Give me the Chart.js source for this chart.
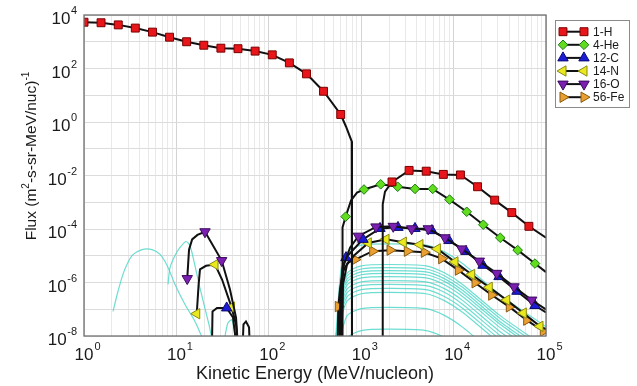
<!DOCTYPE html>
<html lang="en">
<head>
  <meta charset="UTF-8">
  <title>Flux vs Kinetic Energy</title>
  <script src="https://cdn.jsdelivr.net/npm/chart.js@4.4.0/dist/chart.umd.min.js"></script>
  <style>
    html, body { margin: 0; padding: 0; background: #fff; }
    #wrap { width: 637px; height: 386px; position: relative; }
  </style>
</head>
<body>
  <div id="wrap"><canvas id="fluxChart"></canvas></div>

  <script>
    // ---- data (energy in MeV/nucleon, flux in (m^2-s-sr-MeV/nuc)^-1) ----
    const seriesLabels = ['1-H', '4-He', '12-C', '14-N', '16-O', '56-Fe'];
    const xTickExponents = ['0', '1', '2', '3', '4', '5'];
    const yTickExponents = ['4', '2', '0', '-2', '-4', '-6', '-8'];
    const yGridValues = [1e-8, 1e-7, 1e-6, 1e-5, 1e-4, 1e-3, 1e-2, 1e-1, 1, 10, 100, 1000, 10000];

    // 1 = point carries a marker, 0 = line vertex only
    const hEnergy = [1, 1.53, 2.35, 3.59, 5.51, 8.43, 12.9, 19.8, 30.3, 46.4, 71.1, 109, 167, 256, 391, 600,
                     684, 789, 795, 1710, 1710, 1810,
                     2154, 3300, 5054, 7743, 11860, 18170, 27830, 42630, 65300, 100000];
    const hFlux = [5370, 5130, 4270, 3240, 2290, 1480, 1000, 741, 575, 550, 447, 324, 162, 63.1, 14.1, 1.91,
                   0.68, 0.19, 1e-9, 1e-9, 8.3e-4, 2.5e-3,
                   5.75e-3, 1.55e-2, 1.45e-2, 1.10e-2, 1.05e-2, 3.8e-3, 1.2e-3, 4.1e-4, 1.26e-4, 4.7e-5];
    const hMarked = [1, 1, 1, 1, 1, 1, 1, 1, 1, 1, 1, 1, 1, 1, 1, 1,
                     0, 0, 0, 0, 0, 0,
                     1, 1, 1, 1, 1, 1, 1, 1, 1, 0];

    const heEnergy = [620, 628, 679, 776, 901, 1072, 1625, 2483, 3820, 5940, 9030, 13870, 20940, 31990, 49400, 76000, 100000];
    const heFlux = [1e-9, 1.15e-4, 2.9e-4, 1.17e-3, 2.3e-3, 3.0e-3, 4.7e-3, 3.8e-3, 3.16e-3, 3.16e-3, 1.26e-3, 4.4e-4, 1.45e-4, 4.7e-5, 1.62e-5, 5.1e-6, 2.45e-6];
    const heMarked = [0, 0, 1, 0, 0, 1, 1, 1, 1, 1, 1, 1, 1, 1, 1, 1, 0];

    const cEnergy = [24.1, 24.6, 27.5, 35.0, 41.0, 47.0,
                     575, 597, 628, 684, 1045, 1597, 2500, 3820, 5830, 8910, 13610, 20800, 31000, 48500, 76000, 100000];
    const cFlux = [1e-9, 8.3e-8, 1.12e-7, 1.12e-7, 4.9e-8, 1e-9,
                   1e-9, 5.5e-7, 3.6e-6, 8.5e-6, 4.1e-5, 1.05e-4, 1.15e-4, 1.05e-4, 8.7e-5, 3.7e-5, 1.45e-5, 4.4e-6, 1.66e-6, 4.7e-7, 1.38e-7, 7.6e-8];
    const cMarked = [0, 0, 0, 1, 0, 0,
                     0, 0, 0, 1, 1, 1, 1, 1, 1, 1, 1, 1, 1, 1, 1, 0];

    const nEnergy = [16.6, 17.4, 18.0, 20.9, 26.2, 31.2, 39.5, 44.2, 47.6,
                     604, 635, 702, 836, 1194, 1855, 2858, 4325, 6670, 10350, 15700, 24330, 37580, 56800, 86100, 100000];
    const nFlux = [6.8e-8, 8.5e-7, 3.1e-6, 4.2e-6, 4.7e-6, 1.29e-6, 1.2e-7, 2.7e-8, 1e-9,
                   1e-9, 8.5e-7, 4.7e-6, 1.02e-5, 3.0e-5, 4.1e-5, 3.2e-5, 2.6e-5, 1.8e-5, 5.9e-6, 2.0e-6, 6.6e-7, 2.2e-7, 7.2e-8, 2.3e-8, 1.8e-8];
    const nMarked = [1, 0, 0, 0, 1, 0, 1, 0, 0,
                     0, 0, 0, 0, 1, 1, 1, 1, 1, 1, 1, 1, 1, 1, 1, 0];

    const oEnergy = [13.1, 13.7, 14.8, 16.9, 20.4, 30.9, 38.0, 44.2, 47.6,
                     590, 612, 652, 757, 931, 1445, 2223, 3516, 5320, 8070, 12250, 18970, 29300, 45080, 70000, 100000];
    const oFlux = [1.4e-6, 1.7e-5, 4.1e-5, 6.0e-5, 7.9e-5, 6.6e-6, 5.5e-7, 4.9e-8, 1e-9,
                   1e-9, 5.5e-7, 4.7e-6, 2.0e-5, 5.4e-5, 1.2e-4, 1.26e-4, 1.02e-4, 1.02e-4, 4.7e-5, 1.8e-5, 6.3e-6, 2.2e-6, 6.9e-7, 2.2e-7, 9.8e-8];
    const oMarked = [1, 0, 0, 0, 1, 1, 0, 0, 0,
                     0, 0, 0, 0, 1, 1, 1, 1, 1, 1, 1, 1, 1, 1, 1, 0];

    const feEnergy = [51.3, 53.2, 56.6, 61.1, 63.4,
                      553, 565, 590, 635, 719, 857, 1331, 2051, 3155, 4820, 7430, 11250, 17060, 25820, 40090, 61800, 93500];
    const feFlux = [1e-9, 2.7e-8, 3.5e-8, 2.1e-8, 1e-9,
                    1e-9, 1.26e-7, 5.5e-7, 2.6e-6, 5.6e-6, 7.2e-6, 1.48e-5, 1.62e-5, 1.48e-5, 1.35e-5, 7.8e-6, 2.9e-6, 9.8e-7, 3.4e-7, 1.23e-7, 3.9e-8, 1.5e-8];
    const feMarked = [0, 0, 0, 0, 0,
                      0, 1, 0, 0, 0, 1, 1, 1, 1, 1, 1, 1, 1, 1, 1, 1, 1];

    // unlabelled background species (thin cyan traces)
    const cyanLowEnergyA = [2.06, 2.33, 2.71, 3.31, 4.24, 5.45, 6.65, 7.91, 9.66, 12.4, 15.9, 19.4];
    const cyanLowFluxA = [8.3e-8, 4.6e-7, 2.6e-6, 1.02e-5, 1.7e-5, 1.7e-5, 1.12e-5, 4.4e-6, 8.5e-7, 1.5e-7, 3.5e-8, 7.4e-9];
    const cyanLowEnergyB = [8.11, 8.53, 9.66, 10.9, 12.7, 14.0, 15.5, 17.6, 19.9, 22.5, 24.3];
    const cyanLowFluxB = [8.5e-7, 3.6e-6, 1.02e-5, 2.0e-5, 3.4e-5, 2.4e-5, 6.2e-6, 8.5e-7, 1.5e-7, 2.7e-8, 7.4e-9];
    const cyanLowEnergyC = [33, 36, 40, 44];
    const cyanLowFluxC = [7e-9, 3e-8, 4e-8, 7e-9];

    const cyanEnergy = [525, 603, 708, 1000, 1995, 5012, 7943, 12590, 31620, 100000];
    const cyanFlux1 = [5e-9, 2.8e-6, 1.4e-5, 2.5e-5, 2.8e-5, 2.5e-5, 1.4e-5, 5.0e-6, 3.5e-7, 2.2e-8];
    const cyanFlux2 = [5e-9, 4.7e-7, 2.3e-6, 4.2e-6, 4.7e-6, 4.2e-6, 2.3e-6, 8.3e-7, 5.9e-8, 3.7e-9];
    const cyanFlux3 = [5e-9, 3.6e-7, 1.8e-6, 3.2e-6, 3.6e-6, 3.2e-6, 1.8e-6, 6.5e-7, 4.6e-8, 2.9e-9];
    const cyanFlux4 = [5e-9, 2.8e-7, 1.4e-6, 2.5e-6, 2.8e-6, 2.5e-6, 1.4e-6, 5.0e-7, 3.5e-8, 2.2e-9];
    const cyanFlux5 = [5e-9, 2.2e-7, 1.1e-6, 1.95e-6, 2.2e-6, 1.95e-6, 1.1e-6, 3.9e-7, 2.8e-8, 1.7e-9];
    const cyanFlux6 = [5e-9, 1.66e-7, 8.3e-7, 1.48e-6, 1.66e-6, 1.48e-6, 8.3e-7, 2.95e-7, 2.1e-8, 1.3e-9];
    const cyanFlux7 = [5e-9, 1.17e-7, 5.9e-7, 1.05e-6, 1.17e-6, 1.05e-6, 5.9e-7, 2.1e-7, 1.48e-8, 9.3e-10];
    const cyanFlux8 = [5e-9, 8.5e-8, 4.3e-7, 7.6e-7, 8.5e-7, 7.6e-7, 4.3e-7, 1.5e-7, 1.07e-8, 6.8e-10];
    const cyanFlux9 = [5e-9, 6.0e-8, 3.0e-7, 5.4e-7, 6.0e-7, 5.4e-7, 3.0e-7, 1.07e-7, 7.6e-9, 4.8e-10];
    const cyanFlux10 = [5e-9, 4.3e-8, 2.1e-7, 3.8e-7, 4.3e-7, 3.8e-7, 2.1e-7, 7.6e-8, 5.4e-9, 3.4e-10];
    const cyanFlux11 = [5e-9, 1.17e-8, 5.9e-8, 1.05e-7, 1.17e-7, 1.05e-7, 5.9e-8, 2.1e-8, 1.5e-9, 9e-11];
    const cyanFlux12 = [5e-9, 3e-9, 8.9e-9, 1.6e-8, 1.8e-8, 1.6e-8, 8.9e-9, 3.2e-9, 2.2e-10, 1.4e-11];

    // ---- styling ----
    const FONT = '"Liberation Sans", Arial, Helvetica, sans-serif';
    const markerStyles = [
      { pointStyle: 'rect',     rotation: 0,   radius: 5.6, fill: '#e8161b', stroke: '#7a0000' },
      { pointStyle: 'rectRot',  rotation: 0,   radius: 4.8, fill: '#62dc1e', stroke: '#1c7a14' },
      { pointStyle: 'triangle', rotation: 0,   radius: 6,   fill: '#1c1cd6', stroke: '#0a0a70' },
      { pointStyle: 'triangle', rotation: 270, radius: 6,   fill: '#eae81e', stroke: '#8a8a10' },
      { pointStyle: 'triangle', rotation: 180, radius: 6,   fill: '#7a1fb0', stroke: '#3a0a5e' },
      { pointStyle: 'triangle', rotation: 90,  radius: 6,   fill: '#eaa030', stroke: '#8a5a10' }
    ];

    function toPoints(energy, flux) {
      return energy.map((e, i) => ({ x: e, y: flux[i] }));
    }

    function makeSeries(idx, energy, flux, marked) {
      const s = markerStyles[idx];
      return {
        label: seriesLabels[idx],
        data: toPoints(energy, flux),
        borderColor: '#111',
        borderWidth: 2,
        tension: 0,
        fill: false,
        pointStyle: s.pointStyle,
        pointRotation: s.rotation,
        pointRadius: marked.map(m => m ? s.radius : 0),
        pointBackgroundColor: s.fill,
        pointBorderColor: s.stroke,
        pointBorderWidth: 1,
        order: 0
      };
    }

    function makeCyan(energy, flux) {
      return {
        label: '',
        data: toPoints(energy, flux),
        borderColor: 'rgba(72, 212, 198, 0.8)',
        borderWidth: 1.2,
        tension: 0.25,
        pointRadius: 0,
        fill: false,
        order: 5
      };
    }

    const datasets = [
      makeSeries(0, hEnergy, hFlux, hMarked),
      makeSeries(1, heEnergy, heFlux, heMarked),
      makeSeries(4, oEnergy, oFlux, oMarked),
      makeSeries(2, cEnergy, cFlux, cMarked),
      makeSeries(3, nEnergy, nFlux, nMarked),
      makeSeries(5, feEnergy, feFlux, feMarked),
      makeCyan(cyanLowEnergyA, cyanLowFluxA),
      makeCyan(cyanLowEnergyB, cyanLowFluxB),
      makeCyan(cyanLowEnergyC, cyanLowFluxC),
      makeCyan(cyanEnergy, cyanFlux1),
      makeCyan(cyanEnergy, cyanFlux2),
      makeCyan(cyanEnergy, cyanFlux3),
      makeCyan(cyanEnergy, cyanFlux4),
      makeCyan(cyanEnergy, cyanFlux5),
      makeCyan(cyanEnergy, cyanFlux6),
      makeCyan(cyanEnergy, cyanFlux7),
      makeCyan(cyanEnergy, cyanFlux8),
      makeCyan(cyanEnergy, cyanFlux9),
      makeCyan(cyanEnergy, cyanFlux10),
      makeCyan(cyanEnergy, cyanFlux11),
      makeCyan(cyanEnergy, cyanFlux12)
    ];

    function drawMarker(ctx, s, x, y) {
      ctx.fillStyle = s.fill;
      ctx.strokeStyle = s.stroke;
      ctx.lineWidth = 1;
      Chart.helpers.drawPoint(ctx, { pointStyle: s.pointStyle, rotation: s.rotation, radius: s.radius, borderWidth: 1 }, x, y);
    }

    // axes box, power-of-ten tick labels, axis titles and the legend box
    const decorPlugin = {
      id: 'decor',
      afterDraw(chart) {
        const ctx = chart.ctx;
        const a = chart.chartArea;
        const xs = chart.scales.x, ys = chart.scales.y;
        ctx.save();

        ctx.strokeStyle = '#707070';
        ctx.lineWidth = 1.3;
        ctx.strokeRect(a.left, a.top, a.right - a.left, a.bottom - a.top);

        ctx.fillStyle = '#1a1a1a';
        ctx.textBaseline = 'alphabetic';

        // x tick labels
        xTickExponents.forEach(e => {
          const px = xs.getPixelForValue(Math.pow(10, Number(e)));
          ctx.font = '17px ' + FONT;
          ctx.textAlign = 'center';
          ctx.fillText('10', px, a.bottom + 24);
          const w = ctx.measureText('10').width;
          ctx.font = '11px ' + FONT;
          ctx.textAlign = 'left';
          ctx.fillText(e, px + w / 2 + 1, a.bottom + 14);
        });

        // y tick labels
        yTickExponents.forEach(e => {
          const py = ys.getPixelForValue(Math.pow(10, Number(e)));
          const right = a.left - 7;
          ctx.font = '11px ' + FONT;
          ctx.textAlign = 'right';
          const we = ctx.measureText(e).width;
          ctx.fillText(e, right, py - 1);
          ctx.font = '17px ' + FONT;
          ctx.fillText('10', right - we - 0.5, py + 9);
        });

        // x title
        ctx.font = '18px ' + FONT;
        ctx.textAlign = 'center';
        ctx.fillText('Kinetic Energy (MeV/nucleon)', (a.left + a.right) / 2, 379);

        // y title with superscripts
        const parts = [
          { t: 'Flux (m', sup: false },
          { t: '2', sup: true },
          { t: '-s-sr-MeV/nuc)', sup: false },
          { t: '-1', sup: true }
        ];
        const mainFont = '15.5px ' + FONT, supFont = '10px ' + FONT;
        let total = 0;
        parts.forEach(p => { ctx.font = p.sup ? supFont : mainFont; p.w = ctx.measureText(p.t).width; total += p.w; });
        ctx.translate(36, 156);
        ctx.rotate(-Math.PI / 2);
        ctx.textAlign = 'left';
        let cx = -total / 2;
        parts.forEach(p => {
          ctx.font = p.sup ? supFont : mainFont;
          ctx.fillText(p.t, cx, p.sup ? -7 : 0);
          cx += p.w;
        });
        ctx.setTransform(1, 0, 0, 1, 0, 0);

        // legend
        const lx = 555, ly = 20, lw = 74, lh = 87;
        ctx.fillStyle = '#fff';
        ctx.fillRect(lx, ly, lw, lh);
        ctx.strokeStyle = '#8a8a8a';
        ctx.lineWidth = 1;
        ctx.strokeRect(lx + 0.5, ly + 0.5, lw, lh);
        seriesLabels.forEach((label, i) => {
          const y = 31.7 + i * 13.1;
          ctx.strokeStyle = '#111';
          ctx.lineWidth = 2;
          ctx.beginPath();
          ctx.moveTo(561, y);
          ctx.lineTo(586, y);
          ctx.stroke();
          drawMarker(ctx, markerStyles[i], 563, y);
          drawMarker(ctx, markerStyles[i], 584, y);
          ctx.fillStyle = '#1a1a1a';
          ctx.font = '12px ' + FONT;
          ctx.textAlign = 'left';
          ctx.textBaseline = 'middle';
          ctx.fillText(label, 593, y + 0.5);
        });
        ctx.restore();
      }
    };

    const xGridTicks = [];
    for (let n = 0; n < 5; n++) {
      for (let k = 1; k <= 9; k++) xGridTicks.push({ value: k * Math.pow(10, n), major: k === 1 });
    }
    xGridTicks.push({ value: 1e5, major: true });

    const ctx = document.getElementById('fluxChart').getContext('2d');
    new Chart(ctx, {
      type: 'line',
      data: { datasets: datasets },
      plugins: [decorPlugin],
      options: {
        responsive: true,
        maintainAspectRatio: false,
        animation: false,
        devicePixelRatio: 1,
        events: [],
        layout: { padding: { left: 0, right: 91, top: 15, bottom: 0 } },
        plugins: { legend: { display: false }, tooltip: { enabled: false } },
        scales: {
          x: {
            type: 'logarithmic',
            min: 1,
            max: 1e5,
            afterBuildTicks: s => { s.ticks = xGridTicks.map(t => ({ value: t.value, major: t.major })); },
            afterFit: s => { s.height = 50; },
            ticks: { display: false },
            border: { display: false },
            grid: {
              drawTicks: false,
              color: c => (c.tick && c.tick.major) ? '#d4d4d4' : '#e9e9e9',
              lineWidth: 1
            }
          },
          y: {
            type: 'logarithmic',
            min: 1e-8,
            max: 1e4,
            afterBuildTicks: s => { s.ticks = yGridValues.map(v => ({ value: v })); },
            afterFit: s => { s.width = 84; },
            ticks: { display: false },
            border: { display: false },
            grid: { drawTicks: false, color: '#dcdcdc', lineWidth: 1 }
          }
        }
      }
    });
  </script>
</body>
</html>
